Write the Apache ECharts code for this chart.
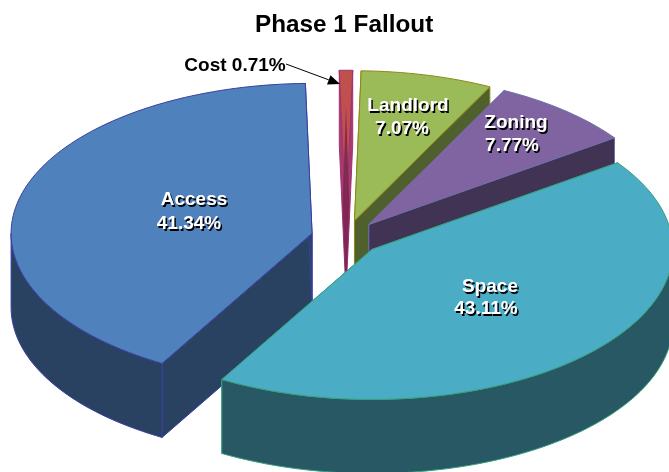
<!DOCTYPE html>
<html>
<head>
<meta charset="utf-8">
<title>Phase 1 Fallout</title>
<script src="https://cdn.jsdelivr.net/npm/echarts@6/dist/echarts.min.js"></script>
<style>
  html, body { margin: 0; padding: 0; background: #fff; }
  #main { width: 669px; height: 472px; overflow: hidden; }
</style>
</head>
<body>
<div id="main"></div>
<script>
// data, drawn back to front
const categories = ['Access', 'Cost', 'Landlord', 'Zoning', 'Space'];
const shares = [41.34, 0.71, 7.07, 7.77, 43.11];

// styles per slice
const topColors = ['#4F81BD', '#C0504D', '#9BBB59', '#8064A2', '#4BACC6'];
const sideColors = ['#2A4262', '#A63A72', '#4F5F2E', '#413353', '#275864'];
const edgeColors = ['#3B3FA0', '#A0336E', '#8E8A14', '#6E6FA8', '#37A07E'];

// label centres, [name line, value line]
const labelSpots = [
  [[194, 200], [189, 224]],
  null,
  [[408, 106], [402, 129]],
  [[516, 123], [512, 146]],
  [[490, 287], [486, 309]]
];

// pie projection
const cx = 346, cy = 237.7, rx = 301, ry = 150, depth = 74, explode = 35;
const LABEL_FONT = 'bold 19px "Liberation Sans", Arial, sans-serif';

const rad = function (deg) { return deg * Math.PI / 180; };
const total = shares.reduce(function (a, b) { return a + b; }, 0);

// the Cost slice sits centred on twelve o'clock
let startDeg = 360 - (shares[0] + shares[1] / 2) / total * 360;
const slices = shares.map(function (v) {
  const s = { from: startDeg, to: startDeg + v / total * 360 };
  startDeg = s.to;
  // past a full turn, go back to the 0-360 range
  if (s.from >= 360) { s.from -= 360; s.to -= 360; }
  return s;
});

function rim(ax, ay, deg, drop) {
  return [ax + rx * Math.sin(rad(deg)), ay - ry * Math.cos(rad(deg)) + drop];
}

function arcPoints(ax, ay, from, to, drop) {
  const pts = [];
  const steps = Math.max(2, Math.ceil((to - from) / 1.5));
  for (let i = 0; i <= steps; i++) {
    pts.push(rim(ax, ay, from + (to - from) * i / steps, drop));
  }
  return pts;
}

function poly(points, fill, stroke) {
  return {
    type: 'polygon',
    shape: { points: points },
    style: { fill: fill, stroke: stroke, lineWidth: 1 }
  };
}

function labelText(text, spot, fill, shadow) {
  return {
    type: 'text',
    x: spot[0],
    y: spot[1],
    style: {
      text: text,
      fill: fill,
      font: LABEL_FONT,
      align: 'center',
      verticalAlign: 'middle',
      textShadowColor: shadow ? '#000' : 'transparent',
      textShadowBlur: shadow ? 0.5 : 0,
      textShadowOffsetX: shadow ? 1.5 : 0,
      textShadowOffsetY: shadow ? 1.5 : 0
    }
  };
}

function renderSlice(params, api) {
  const i = params.dataIndex;
  const s = slices[i];
  const mid = rad((s.from + s.to) / 2);
  const ax = cx + explode * Math.sin(mid);
  const ay = cy - explode * Math.cos(mid) * ry / rx;
  const apex = [ax, ay];
  const apexLow = [ax, ay + depth];
  const side = sideColors[i], edge = edgeColors[i];
  const children = [];

  // radial walls
  [s.from, s.to].forEach(function (deg) {
    children.push(poly([apex, rim(ax, ay, deg, 0), rim(ax, ay, deg, depth), apexLow], side, edge));
  });

  // outer wall, only the front half of the rim can be seen
  const wallFrom = Math.max(s.from, 90), wallTo = Math.min(s.to, 270);
  if (wallFrom < wallTo) {
    const upperFront = arcPoints(ax, ay, wallFrom, wallTo, 0);
    const lowerFront = arcPoints(ax, ay, wallFrom, wallTo, depth).reverse();
    children.push(poly(upperFront.concat(lowerFront), side, edge));
  }

  // top face
  children.push(poly([apex].concat(arcPoints(ax, ay, s.from, s.to, 0)), topColors[i], edge));

  const value = api.value(0);
  if (labelSpots[i]) {
    children.push(labelText(categories[i], labelSpots[i][0], '#fff', true));
    children.push(labelText(value.toFixed(2) + '%', labelSpots[i][1], '#fff', true));
  } else {
    // sliver: dark core where the walls meet, then the outside label and arrow
    const halfW = rx * Math.sin(rad((s.to - s.from) / 2)) / 2;
    children.push({
      type: 'polygon',
      shape: { points: [
        [ax, ay - ry + depth / 2],
        [ax + halfW, ay - 15],
        [ax, ay + depth],
        [ax - halfW, ay - 15]
      ] },
      style: { fill: '#7A2350', opacity: 0.85 }
    });
    children.push(labelText(categories[i] + ' ' + value.toFixed(2) + '%', [235, 66], '#000', false));
    const tail = [286, 64], tip = [340, 84];
    const ang = Math.atan2(tip[1] - tail[1], tip[0] - tail[0]);
    const back = [tip[0] - 12 * Math.cos(ang), tip[1] - 12 * Math.sin(ang)];
    const nx = -Math.sin(ang) * 5, ny = Math.cos(ang) * 5;
    children.push({
      type: 'line',
      shape: { x1: tail[0], y1: tail[1], x2: back[0], y2: back[1] },
      style: { stroke: '#000', lineWidth: 1 }
    });
    children.push({
      type: 'polygon',
      shape: { points: [tip, [back[0] + nx, back[1] + ny], [back[0] - nx, back[1] - ny]] },
      style: { fill: '#000' }
    });
  }
  return { type: 'group', children: children };
}

const myChart = echarts.init(document.getElementById('main'), null, { renderer: 'canvas' });
myChart.setOption({
  animation: false,
  backgroundColor: '#fff',
  title: {
    text: 'Phase 1 Fallout',
    left: 255,
    top: 13,
    padding: 0,
    textStyle: {
      color: '#000',
      fontFamily: '"Liberation Sans", Arial, sans-serif',
      fontWeight: 'bold',
      fontSize: 24.3
    }
  },
  series: [{
    type: 'custom',
    coordinateSystem: 'none',
    silent: true,
    renderItem: renderSlice,
    data: shares.map(function (v) { return [v]; })
  }]
});
</script>
</body>
</html>
